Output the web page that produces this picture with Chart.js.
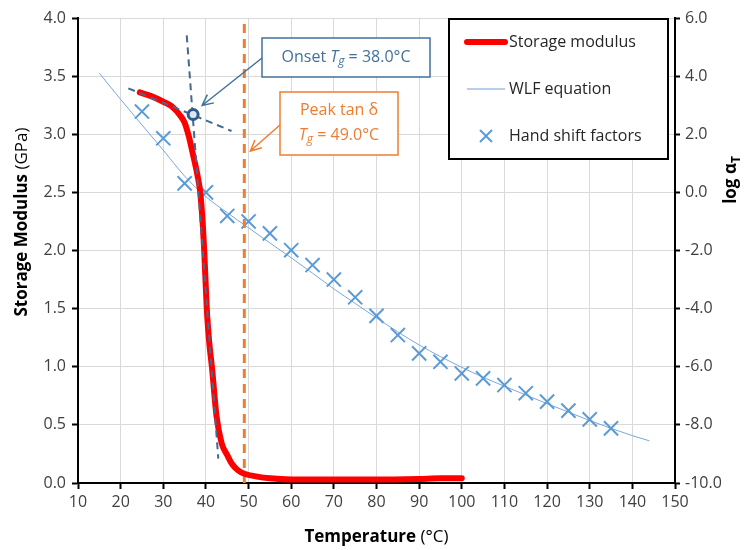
<!DOCTYPE html>
<html>
<head>
<meta charset="utf-8">
<script src="https://cdn.jsdelivr.net/npm/chart.js@4.4.1/dist/chart.umd.min.js"></script>
<style>
  body { margin: 0; background: #fff; }
  #wrap { width: 744px; height: 550px; position: relative; }
</style>
</head>
<body>
<div id="wrap"><canvas id="dmaChart" width="744" height="550"></canvas></div>
<script>
// storage modulus (left axis, GPa)
const modTemp = [24.5, 27, 30, 32, 34, 35, 36, 37, 38, 38.7, 39.3, 39.6, 40.2, 40.8, 41.4, 42.5, 43.7, 45, 46, 47.5, 49, 52, 55, 60, 70, 80, 90, 95, 100];
const modulus = [3.36, 3.33, 3.28, 3.24, 3.16, 3.1, 2.98, 2.82, 2.65, 2.49, 2.2, 2.0, 1.5, 1.2, 1.0, 0.57, 0.34, 0.24, 0.17, 0.11, 0.08, 0.055, 0.04, 0.03, 0.03, 0.03, 0.035, 0.04, 0.04];

// WLF curve (right axis, log aT)
const wlfTemp = [15, 20, 25, 30, 35, 40, 45, 50, 55, 60, 65, 70, 75, 80, 85, 90, 95, 100, 105, 110, 115, 120, 125, 130, 135, 140, 144];
const wlfLog = [4.1, 3.2, 2.32, 1.45, 0.56, -0.15, -0.7, -1.22, -1.74, -2.25, -2.78, -3.32, -3.82, -4.32, -4.8, -5.25, -5.65, -6.02, -6.36, -6.67, -6.97, -7.27, -7.56, -7.85, -8.12, -8.37, -8.55];

// hand shift factors (right axis)
const shiftTemp = [25, 30, 35, 40, 45, 50, 55, 60, 65, 70, 75, 80, 85, 90, 95, 100, 105, 110, 115, 120, 125, 130, 135];
const shiftLog = [2.78, 1.86, 0.31, 0.0, -0.81, -1.0, -1.41, -1.99, -2.5, -3.0, -3.61, -4.25, -4.91, -5.54, -5.83, -6.23, -6.4, -6.63, -6.91, -7.2, -7.51, -7.81, -8.12];

// tangent construction and markers
const tangentATemp = [21.8, 46];
const tangentAMod = [3.395, 3.028];
const tangentBTemp = [35.5, 42.9];
const tangentBMod = [3.85, 0.21];
const onsetTemp = 37, onsetMod = 3.17;
const peakTemp = 49;
const peakLine = [0, 4];

const pts = (xs, ys) => xs.map((x, i) => ({ x: x, y: ys[i] }));

Chart.defaults.font.family = "'Open Sans', sans-serif";
Chart.defaults.font.size = 16;
Chart.defaults.color = '#404040';

const FONT = "'Open Sans', sans-serif";

function arrow(ctx, x1, y1, x2, y2, color) {
    ctx.save();
    ctx.strokeStyle = color;
    ctx.lineWidth = 1.5;
    ctx.beginPath();
    ctx.moveTo(x1, y1);
    ctx.lineTo(x2, y2);
    const a = Math.atan2(y2 - y1, x2 - x1);
    const h = 12;
    ctx.moveTo(x2 - h * Math.cos(a - 0.45), y2 - h * Math.sin(a - 0.45));
    ctx.lineTo(x2, y2);
    ctx.lineTo(x2 - h * Math.cos(a + 0.45), y2 - h * Math.sin(a + 0.45));
    ctx.stroke();
    ctx.restore();
}

// draws "T_g = value" centred at cx
function tgText(ctx, cx, cy, prefix, value, color) {
    ctx.save();
    ctx.fillStyle = color;
    ctx.textBaseline = 'middle';
    ctx.textAlign = 'left';
    const reg = '16px ' + FONT, ital = 'italic 16px ' + FONT, sub = 'italic 12px ' + FONT;
    ctx.font = reg; const w1 = ctx.measureText(prefix).width;
    ctx.font = ital; const w2 = ctx.measureText('T').width;
    ctx.font = sub; const w3 = ctx.measureText('g').width;
    ctx.font = reg; const w4 = ctx.measureText(' = ' + value).width;
    let x = cx - (w1 + w2 + w3 + w4) / 2;
    ctx.font = reg; ctx.fillText(prefix, x, cy); x += w1;
    ctx.font = ital; ctx.fillText('T', x, cy); x += w2;
    ctx.font = sub; ctx.fillText('g', x, cy + 5); x += w3;
    ctx.font = reg; ctx.fillText(' = ' + value, x, cy);
    ctx.restore();
}

const extras = {
    id: 'extras',
    afterDatasetsDraw(chart) {
        const ctx = chart.ctx;
        const xs = chart.scales.x, ys = chart.scales.y;
        const onsetPx = xs.getPixelForValue(onsetTemp), onsetPy = ys.getPixelForValue(onsetMod);

        // onset box
        ctx.save();
        ctx.fillStyle = '#fff';
        ctx.strokeStyle = '#41719C';
        ctx.lineWidth = 1.5;
        ctx.fillRect(262, 38, 168, 39);
        ctx.strokeRect(262, 38, 168, 39);
        ctx.restore();
        tgText(ctx, 346, 57, 'Onset ', '38.0°C', '#41719C');
        arrow(ctx, 262, 58, onsetPx + 9, onsetPy - 9, '#41719C');

        // peak tan delta box
        ctx.save();
        ctx.fillStyle = '#fff';
        ctx.strokeStyle = '#ED7D31';
        ctx.lineWidth = 1.5;
        ctx.fillRect(280, 92, 118, 63);
        ctx.strokeRect(280, 92, 118, 63);
        ctx.fillStyle = '#ED7D31';
        ctx.font = '16px ' + FONT;
        ctx.textAlign = 'center';
        ctx.textBaseline = 'middle';
        ctx.fillText('Peak tan δ', 339, 110);
        ctx.restore();
        tgText(ctx, 339, 135, '', '49.0°C', '#ED7D31');
        arrow(ctx, 280, 125, xs.getPixelForValue(peakTemp) + 6, 151, '#ED7D31');

        // legend
        ctx.save();
        ctx.fillStyle = '#fff';
        ctx.strokeStyle = '#000';
        ctx.lineWidth = 2;
        ctx.fillRect(449, 19, 219, 140);
        ctx.strokeRect(449, 19, 219, 140);
        ctx.lineCap = 'round';
        ctx.strokeStyle = '#FF0000';
        ctx.lineWidth = 6;
        ctx.beginPath(); ctx.moveTo(467, 42); ctx.lineTo(505, 42); ctx.stroke();
        ctx.lineCap = 'butt';
        ctx.strokeStyle = '#6F9FD8';
        ctx.lineWidth = 1;
        ctx.beginPath(); ctx.moveTo(467, 89); ctx.lineTo(505, 89); ctx.stroke();
        ctx.strokeStyle = '#5B9BD5';
        ctx.lineWidth = 2;
        ctx.beginPath();
        ctx.moveTo(480, 130); ctx.lineTo(492, 142);
        ctx.moveTo(492, 130); ctx.lineTo(480, 142);
        ctx.stroke();
        ctx.fillStyle = '#262626';
        ctx.font = '16px ' + FONT;
        ctx.textBaseline = 'middle';
        ctx.fillText('Storage modulus', 509, 42);
        ctx.fillText('WLF equation', 509, 89);
        ctx.fillText('Hand shift factors', 509, 136);
        ctx.restore();
    },
    afterDraw(chart) {
        const ctx = chart.ctx;
        const area = chart.chartArea;
        ctx.save();
        ctx.fillStyle = '#000';
        ctx.textBaseline = 'middle';
        ctx.textAlign = 'left';

        // left title
        const b = 'bold 17px ' + FONT, r = '17px ' + FONT;
        ctx.font = b; const lw1 = ctx.measureText('Storage Modulus ').width;
        ctx.font = r; const lw2 = ctx.measureText('(GPa)').width;
        ctx.save();
        ctx.translate(22, 222);
        ctx.rotate(-Math.PI / 2);
        let x = -(lw1 + lw2) / 2;
        ctx.font = b; ctx.fillText('Storage Modulus ', x, 0);
        ctx.font = r; ctx.fillText('(GPa)', x + lw1, 0);
        ctx.restore();

        // bottom title
        ctx.font = b; const bw1 = ctx.measureText('Temperature ').width;
        ctx.font = r; const bw2 = ctx.measureText('(°C)').width;
        x = (area.left + area.right) / 2 - (bw1 + bw2) / 2;
        ctx.font = b; ctx.fillText('Temperature ', x, 537);
        ctx.font = r; ctx.fillText('(°C)', x + bw1, 537);

        // right title
        ctx.save();
        ctx.translate(731, 180);
        ctx.rotate(-Math.PI / 2);
        ctx.font = b; const rw1 = ctx.measureText('log α').width;
        ctx.font = 'bold 12px ' + FONT; const rw2 = ctx.measureText('T').width;
        x = -(rw1 + rw2) / 2;
        ctx.font = b; ctx.fillText('log α', x, 0);
        ctx.font = 'bold 12px ' + FONT; ctx.fillText('T', x + rw1, 6);
        ctx.restore();

        ctx.restore();
    }
};

new Chart(document.getElementById('dmaChart'), {
    type: 'scatter',
    data: {
        datasets: [
            {
                label: 'Onset point',
                data: [{ x: onsetTemp, y: onsetMod }],
                yAxisID: 'y',
                pointRadius: 5,
                borderWidth: 3,
                borderColor: '#2F5B8C',
                backgroundColor: '#DCE6F1'
            },
            {
                label: 'Tangent A',
                data: pts(tangentATemp, tangentAMod),
                yAxisID: 'y',
                showLine: true,
                borderColor: '#44688F',
                borderWidth: 2,
                borderDash: [7, 5],
                pointRadius: 0
            },
            {
                label: 'Tangent B',
                data: pts(tangentBTemp, tangentBMod),
                yAxisID: 'y',
                showLine: true,
                borderColor: '#44688F',
                borderWidth: 2,
                borderDash: [7, 5],
                pointRadius: 0
            },
            {
                label: 'Storage modulus',
                data: pts(modTemp, modulus),
                yAxisID: 'y',
                showLine: true,
                borderColor: '#FF0000',
                borderWidth: 6,
                borderCapStyle: 'round',
                cubicInterpolationMode: 'monotone',
                pointRadius: 0
            },
            {
                label: 'Peak tan delta',
                data: [{ x: peakTemp, y: peakLine[0] }, { x: peakTemp, y: peakLine[1] }],
                yAxisID: 'y',
                showLine: true,
                borderColor: '#ED7D31',
                borderWidth: 3,
                borderDash: [9, 6],
                pointRadius: 0
            },
            {
                label: 'Hand shift factors',
                data: pts(shiftTemp, shiftLog),
                yAxisID: 'y2',
                pointStyle: 'crossRot',
                pointRadius: 10,
                borderWidth: 2,
                borderColor: '#5B9BD5'
            },
            {
                label: 'WLF equation',
                data: pts(wlfTemp, wlfLog),
                yAxisID: 'y2',
                showLine: true,
                borderColor: '#7BA7DC',
                borderWidth: 1,
                cubicInterpolationMode: 'monotone',
                pointRadius: 0
            }
        ]
    },
    options: {
        responsive: false,
        animation: false,
        layout: { padding: { top: 18 } },
        plugins: {
            legend: { display: false },
            tooltip: { enabled: false }
        },
        scales: {
            x: {
                type: 'linear',
                min: 10, max: 150,
                ticks: { stepSize: 10, padding: 4, color: '#404040', maxRotation: 0, autoSkip: false },
                grid: { color: '#D9D9D9', tickColor: '#000', tickLength: 6, tickWidth: 2 },
                border: { color: '#000', width: 2 },
                afterFit: (s) => { s.height = 67; }
            },
            y: {
                position: 'left',
                min: 0, max: 4,
                ticks: { stepSize: 0.5, padding: 6, color: '#404040', callback: (v) => v.toFixed(1) },
                grid: { color: '#D9D9D9', tickColor: '#000', tickLength: 6, tickWidth: 2 },
                border: { color: '#000', width: 2 },
                afterFit: (s) => { s.width = 78; }
            },
            y2: {
                position: 'right',
                min: -10, max: 6,
                ticks: { stepSize: 2, padding: 5, color: '#404040', callback: (v) => v.toFixed(1) },
                grid: { drawOnChartArea: false, tickColor: '#000', tickLength: 5, tickWidth: 2 },
                border: { color: '#000', width: 2 },
                afterFit: (s) => { s.width = 69; }
            }
        }
    },
    plugins: [extras]
});
</script>
</body>
</html>
